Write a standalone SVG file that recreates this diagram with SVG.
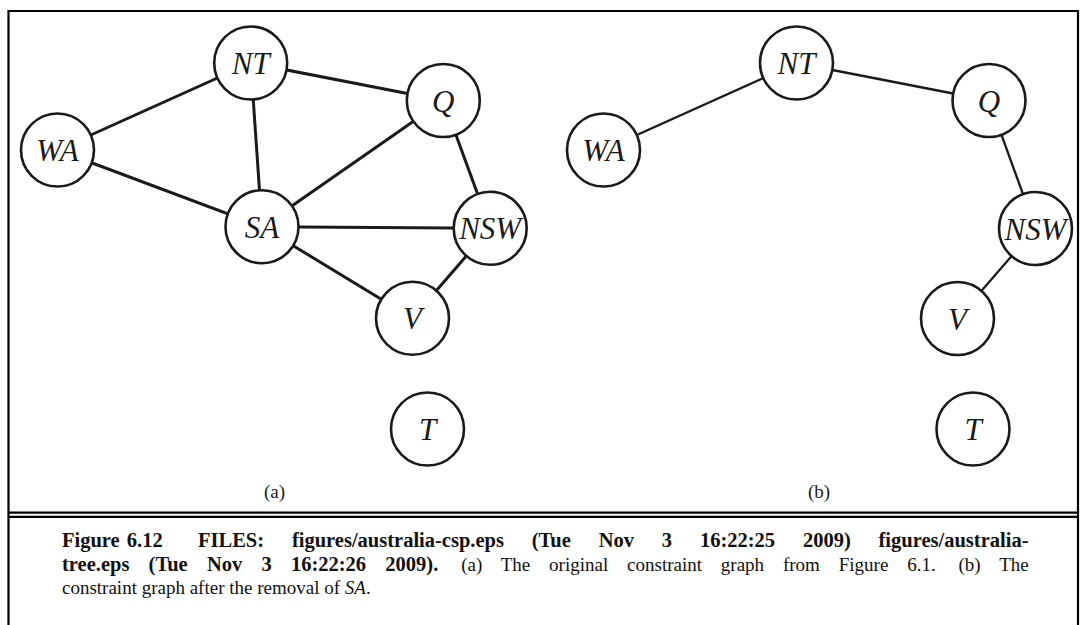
<svg xmlns="http://www.w3.org/2000/svg" width="1086" height="625" viewBox="0 0 1086 625">
<style>
.node circle{fill:#fff;stroke:#1a1a1a;stroke-width:2.6}
.node text{font-family:"Liberation Serif","Times New Roman",serif;font-style:italic;font-size:31px;fill:#1a1a1a;text-anchor:middle}
.ea line{stroke:#1a1a1a;stroke-width:3}
.eb line{stroke:#1a1a1a;stroke-width:2.3}
.frame{fill:none;stroke:#000;stroke-width:2.2}
.sub{font-family:"Liberation Serif","Times New Roman",serif;font-size:19px;fill:#1a1a1a;text-anchor:middle}
.cap{font-family:"Liberation Serif","Times New Roman",serif;font-size:19px;fill:#111}
.b{font-weight:bold;font-size:20.5px}
.i{font-style:italic}
</style>
<rect width="1086" height="625" fill="#fff"/>
<g id="frame">
<polyline class="frame" points="8.5,625 8.5,11 1078,11 1078,625"/>
<line class="frame" x1="8.5" y1="512.7" x2="1078" y2="512.7" stroke-width="2"/>
<line class="frame" x1="8.5" y1="516.8" x2="1078" y2="516.8" stroke-width="2"/>
</g>
<g id="edges-a" class="ea">
<line x1="57.5" y1="150" x2="250.7" y2="63"/>
<line x1="57.5" y1="150" x2="262" y2="226.7"/>
<line x1="250.7" y1="63" x2="262" y2="226.7"/>
<line x1="250.7" y1="63" x2="443.3" y2="100.5"/>
<line x1="262" y1="226.7" x2="443.3" y2="100.5"/>
<line x1="262" y1="226.7" x2="490.2" y2="228.3"/>
<line x1="262" y1="226.7" x2="412.5" y2="318.3"/>
<line x1="443.3" y1="100.5" x2="490.2" y2="228.3"/>
<line x1="490.2" y1="228.3" x2="412.5" y2="318.3"/>
</g>
<g id="edges-b" class="eb">
<line x1="603.5" y1="150" x2="796.5" y2="63"/>
<line x1="796.5" y1="63" x2="989" y2="100.5"/>
<line x1="989" y1="100.5" x2="1035.5" y2="228.5"/>
<line x1="1035.5" y1="228.5" x2="957.5" y2="318.5"/>
</g>
<g id="a-WA" class="node"><circle cx="57.5" cy="150" r="36.5"/><text x="57.5" y="161">WA</text></g>
<g id="a-NT" class="node"><circle cx="250.7" cy="63" r="36.5"/><text x="250.7" y="74">NT</text></g>
<g id="a-Q" class="node"><circle cx="443.3" cy="100.5" r="36.5"/><text x="443.3" y="111.5">Q</text></g>
<g id="a-SA" class="node"><circle cx="262" cy="226.7" r="36.5"/><text x="262" y="237.7">SA</text></g>
<g id="a-NSW" class="node"><circle cx="490.2" cy="228.3" r="36.5"/><text x="490.2" y="239.3">NSW</text></g>
<g id="a-V" class="node"><circle cx="412.5" cy="318.3" r="36.5"/><text x="412.5" y="329.3">V</text></g>
<g id="a-T" class="node"><circle cx="427.5" cy="429" r="36.5"/><text x="427.5" y="440">T</text></g>
<text class="sub" x="274.5" y="498">(a)</text>
<g id="b-WA" class="node"><circle cx="603.5" cy="150" r="36.5"/><text x="603.5" y="161">WA</text></g>
<g id="b-NT" class="node"><circle cx="796.5" cy="63" r="36.5"/><text x="796.5" y="74">NT</text></g>
<g id="b-Q" class="node"><circle cx="989" cy="100.5" r="36.5"/><text x="989" y="111.5">Q</text></g>
<g id="b-NSW" class="node"><circle cx="1035.5" cy="228.5" r="36.5"/><text x="1035.5" y="239.5">NSW</text></g>
<g id="b-V" class="node"><circle cx="957.5" cy="318.5" r="36.5"/><text x="957.5" y="329.5">V</text></g>
<g id="b-T" class="node"><circle cx="973" cy="429" r="36.5"/><text x="973" y="440">T</text></g>
<text class="sub" x="819" y="498">(b)</text>
<g id="caption">
<text class="cap b" y="546.5"><tspan x="62" word-spacing="2">Figure 6.12</tspan><tspan x="198" word-spacing="22.7">FILES: figures/australia-csp.eps (Tue Nov 3 16:22:25 2009) figures/australia-</tspan></text>
<text class="cap" x="62" y="570.5" word-spacing="14.1"><tspan class="b">tree.eps (Tue Nov 3 16:22:26 2009).</tspan> <tspan dx="4">(a) The original constraint graph from Figure 6.1.</tspan> <tspan dx="4">(b) The</tspan></text>
<text class="cap" x="62" y="594">constraint graph after the removal of <tspan class="i">SA</tspan>.</text>
</g>
</svg>
